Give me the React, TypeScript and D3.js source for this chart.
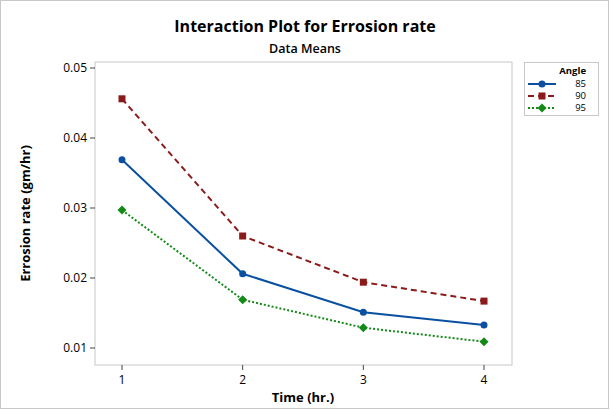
import * as React from "react"
import * as d3 from "d3"

const times = [1, 2, 3, 4]
const angles = ["85", "90", "95"]
const angle85 = [0.0369, 0.0206, 0.0151, 0.0133]
const angle90 = [0.0456, 0.026, 0.0194, 0.0167]
const angle95 = [0.0297, 0.0169, 0.0129, 0.0109]
const yTicks = [0.01, 0.02, 0.03, 0.04, 0.05]

const series = [
    { name: angles[0], values: angle85, color: "#0a50a1", dash: "", shape: "circle" },
    { name: angles[1], values: angle90, color: "#8b1a1a", dash: "6,4", shape: "square" },
    { name: angles[2], values: angle95, color: "#138a16", dash: "2,2", shape: "diamond" },
]

const font = "'Segoe UI', 'Open Sans', 'DejaVu Sans', sans-serif"

const Marker = ({ shape, x, y, color }: { shape: string, x: number, y: number, color: string }) => {
    if (shape === "circle") return <circle cx={x} cy={y} r={3.5} fill={color} />
    if (shape === "square") return <rect x={x - 3.5} y={y - 3.5} width={7} height={7} fill={color} />
    return <path d={`M${x},${y - 4.5}L${x + 4.5},${y}L${x},${y + 4.5}L${x - 4.5},${y}Z`} fill={color} />
}

export default function App(): JSX.Element {
    const left = 95, right = 512, top = 62, bottom = 365
    const x = d3.scaleLinear().domain([1, 4]).range([122, 484])
    const y = d3.scaleLinear().domain([0.01, 0.05]).range([348, 68])
    const line = d3.line<number>().x((_, i) => x(times[i])).y(d => y(d))

    return (
        <svg width={610} height={410} style={{ position: "absolute", left: 0, top: 0, fontFamily: font }}>
            <rect x={0.5} y={0.5} width={608} height={408} fill="#fff" stroke="#c8c8c8" />
            <text x={305} y={32} textAnchor="middle" fontSize={16} fontWeight="bold">Interaction Plot for Errosion rate</text>
            <text x={305} y={53} textAnchor="middle" fontSize={12.5} fontWeight={600}>Data Means</text>
            <rect x={left} y={top} width={right - left} height={bottom - top} fill="#fff" stroke="#c8c8c8" />
            {yTicks.map(t => (
                <g key={t}>
                    <line x1={left - 5} x2={left} y1={y(t)} y2={y(t)} stroke="#444" />
                    <text x={left - 8} y={y(t)} dy="0.35em" textAnchor="end" fontSize={12}>{t.toFixed(2)}</text>
                </g>
            ))}
            {times.map(t => (
                <g key={t}>
                    <line x1={x(t)} x2={x(t)} y1={bottom} y2={bottom + 5} stroke="#444" />
                    <text x={x(t)} y={bottom + 19} textAnchor="middle" fontSize={12}>{t}</text>
                </g>
            ))}
            <text x={303} y={bottom + 37} textAnchor="middle" fontSize={13} fontWeight="bold">Time (hr.)</text>
            <text transform={`translate(30,${(top + bottom) / 2}) rotate(-90)`} textAnchor="middle" fontSize={13} fontWeight="bold">Errosion rate (gm/hr)</text>
            {series.map(s => (
                <g key={s.name}>
                    <path d={line(s.values) || ""} fill="none" stroke={s.color} strokeWidth={2} strokeDasharray={s.dash} />
                    {s.values.map((v, i) => <Marker key={i} shape={s.shape} x={x(times[i])} y={y(v)} color={s.color} />)}
                </g>
            ))}
            <rect x={524.5} y={62.5} width={74} height={53} fill="#fff" stroke="#c8c8c8" />
            <text x={586} y={74} textAnchor="end" fontSize={9.5} fontWeight="bold">Angle</text>
            {series.map((s, i) => (
                <g key={s.name}>
                    <line x1={528} x2={556} y1={84 + i * 12} y2={84 + i * 12} stroke={s.color} strokeWidth={2} strokeDasharray={s.dash} />
                    <Marker shape={s.shape} x={542} y={84 + i * 12} color={s.color} />
                    <text x={586} y={84 + i * 12} dy="0.35em" textAnchor="end" fontSize={9.5}>{s.name}</text>
                </g>
            ))}
        </svg>
    )
}
